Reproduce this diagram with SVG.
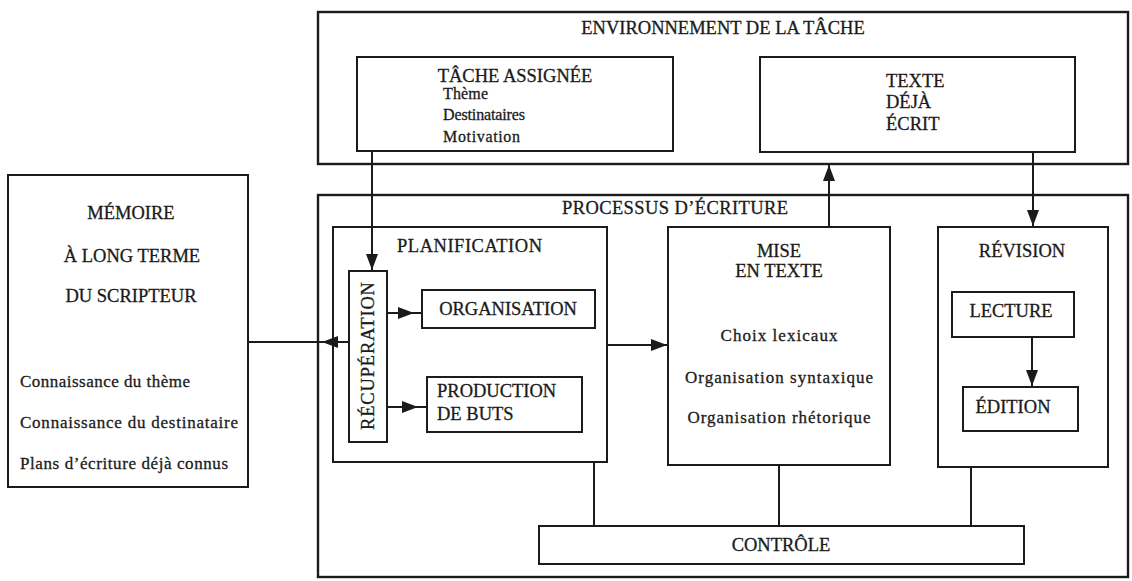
<svg xmlns="http://www.w3.org/2000/svg" width="1132" height="581" viewBox="0 0 1132 581">
  <style>
    .box { fill: none; stroke: #1b1b1b; stroke-width: 2; }
    .outer { stroke-width: 2.4; }
    .link { fill: none; stroke: #1b1b1b; stroke-width: 2; }
    .cap, .low, .sm { font-family: "Liberation Serif", "Times New Roman", serif; fill: #1b1b1b; stroke: #1b1b1b; stroke-width: 0.3; }
    .cap { font-size: 18.5px; }
    .low { font-size: 17px; }
    .sm { font-size: 16px; }
    .mid { text-anchor: middle; }
  </style>
  <defs>
    <marker id="head" viewBox="0 0 16 12" markerUnits="userSpaceOnUse" markerWidth="16" markerHeight="12" refX="16" refY="6" orient="auto">
      <path d="M0 0 L16 6 L0 12 Z" fill="#1b1b1b"/>
    </marker>
  </defs>
  <rect x="0" y="0" width="1132" height="581" fill="#ffffff"/>

  <!-- task environment -->
  <g id="environnement">
    <rect class="box outer" x="318" y="12" width="810" height="152"/>
    <text class="cap mid" x="723" y="34">ENVIRONNEMENT DE LA TÂCHE</text>
  </g>
  <g id="tache-assignee">
    <rect class="box" x="357" y="57" width="316" height="94"/>
    <text class="cap mid" x="515" y="82">TÂCHE ASSIGNÉE</text>
    <text class="sm" x="443" y="99" textLength="45">Thème</text>
    <text class="sm" x="443" y="120" textLength="82">Destinataires</text>
    <text class="sm" x="443" y="142" textLength="77">Motivation</text>
  </g>
  <g id="texte-deja-ecrit">
    <rect class="box" x="760" y="57" width="315" height="95"/>
    <text class="cap" x="886" y="87">TEXTE</text>
    <text class="cap" x="886" y="108">DÉJÀ</text>
    <text class="cap" x="886" y="130">ÉCRIT</text>
  </g>

  <!-- long-term memory -->
  <g id="memoire">
    <rect class="box" x="8" y="175" width="240" height="312"/>
    <text class="cap mid" x="131" y="219">MÉMOIRE</text>
    <text class="cap mid" x="132" y="262">À LONG TERME</text>
    <text class="cap mid" x="131" y="302">DU SCRIPTEUR</text>
    <text class="low" x="20" y="387" textLength="170">Connaissance du thème</text>
    <text class="low" x="20" y="428" textLength="218">Connaissance du destinataire</text>
    <text class="low" x="20" y="469" textLength="208">Plans d’écriture déjà connus</text>
  </g>

  <!-- writing processes -->
  <g id="processus">
    <rect class="box outer" x="318" y="195" width="810" height="382"/>
    <text class="cap" x="562" y="214" textLength="226">PROCESSUS D’ÉCRITURE</text>
  </g>
  <g id="planification">
    <rect class="box" x="333" y="227" width="274" height="235"/>
    <text class="cap" x="397" y="252" textLength="145">PLANIFICATION</text>
  </g>
  <g id="recuperation">
    <rect class="box" x="349" y="271" width="38" height="171"/>
    <text class="cap mid" transform="translate(374 356) rotate(-90)" x="0" y="0" textLength="148">RÉCUPÉRATION</text>
  </g>
  <g id="organisation">
    <rect class="box" x="422" y="290" width="173" height="38"/>
    <text class="cap mid" x="508" y="315">ORGANISATION</text>
  </g>
  <g id="production-de-buts">
    <rect class="box" x="427" y="377" width="155" height="55"/>
    <text class="cap" x="437" y="397">PRODUCTION</text>
    <text class="cap" x="437" y="420">DE BUTS</text>
  </g>
  <g id="mise-en-texte">
    <rect class="box" x="668" y="227" width="222" height="238"/>
    <text class="cap mid" x="779" y="257">MISE</text>
    <text class="cap mid" x="779" y="277">EN TEXTE</text>
    <text class="low mid" x="779" y="341" textLength="117">Choix lexicaux</text>
    <text class="low mid" x="779" y="383" textLength="188">Organisation syntaxique</text>
    <text class="low mid" x="779" y="423" textLength="183">Organisation rhétorique</text>
  </g>
  <g id="revision">
    <rect class="box" x="938" y="227" width="170" height="240"/>
    <text class="cap mid" x="1022" y="257">RÉVISION</text>
  </g>
  <g id="lecture">
    <rect class="box" x="952" y="292" width="122" height="45"/>
    <text class="cap mid" x="1011" y="317">LECTURE</text>
  </g>
  <g id="edition">
    <rect class="box" x="963" y="387" width="115" height="44"/>
    <text class="cap mid" x="1013" y="413">ÉDITION</text>
  </g>
  <g id="controle">
    <rect class="box" x="539" y="526" width="485" height="38"/>
    <text class="cap mid" x="781" y="551">CONTRÔLE</text>
  </g>

  <!-- connectors -->
  <g id="connecteurs">
    <path class="link" d="M372 151 V270" marker-end="url(#head)"/>
    <path class="link" d="M829 227 V165" marker-end="url(#head)"/>
    <path class="link" d="M1033 152 V226" marker-end="url(#head)"/>
    <path class="link" d="M1032 337 V386" marker-end="url(#head)"/>
    <path class="link" d="M387 313 H414 H422" marker-mid="url(#head)"/>
    <path class="link" d="M387 407 H418 H427" marker-mid="url(#head)"/>
    <path class="link" d="M349 342 H322 H248" marker-mid="url(#head)"/>
    <path class="link" d="M607 345 H667" marker-end="url(#head)"/>
    <path class="link" d="M594 462 V526"/>
    <path class="link" d="M779 465 V526"/>
    <path class="link" d="M971 467 V526"/>
  </g>
</svg>
